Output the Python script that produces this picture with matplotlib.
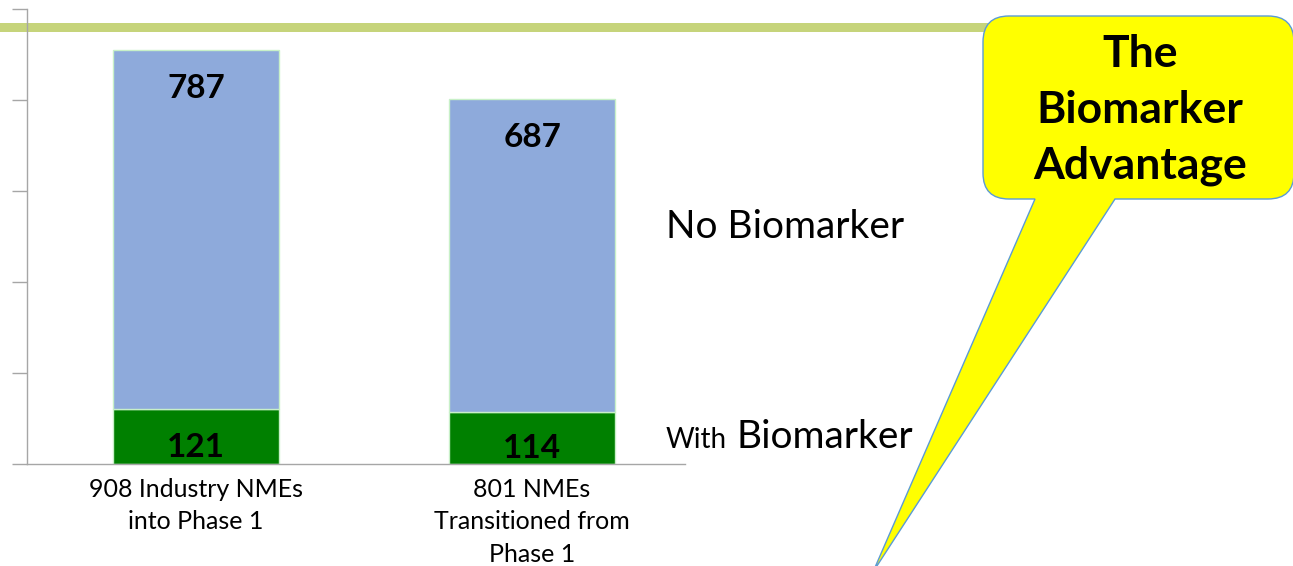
import matplotlib
matplotlib.use("Agg")
import matplotlib.pyplot as plt
from matplotlib.path import Path
from matplotlib.patches import PathPatch, Rectangle

plt.rcParams['font.family'] = ['Lato', 'DejaVu Sans']

categories = ["908 Industry NMEs\ninto Phase 1", "801 NMEs\nTransitioned from\nPhase 1"]
with_biomarker = [121, 114]
no_biomarker = [787, 687]

W, H = 1293, 566
fig = plt.figure(figsize=(W / 100, H / 100), dpi=100)

# Background layer in pixel coordinates for slide decorations
bg = fig.add_axes([0, 0, 1, 1], zorder=0)
bg.set_xlim(0, W)
bg.set_ylim(H, 0)
bg.axis('off')

# Olive header rule
bg.add_patch(Rectangle((0, 23), 990, 9, facecolor='#c6d47b', edgecolor='none'))

# Main chart
ax = fig.add_axes([27 / W, (H - 464) / H, (685 - 27) / W, (464 - 8.5) / H], zorder=1)
ax.set_facecolor('none')
x = list(range(len(categories)))
width = 0.494
ax.bar(x, with_biomarker, width, color='#008000', edgecolor='#c8f0c8', linewidth=1)
ax.bar(x, no_biomarker, width, bottom=with_biomarker, color='#8eaadb', edgecolor='#c8f0c8', linewidth=1)

for i in x:
    total = with_biomarker[i] + no_biomarker[i]
    ax.text(i, total - 84, str(no_biomarker[i]), ha='center', va='center',
            fontsize=24, fontweight='bold', color='black')
    ax.text(i, with_biomarker[i] * 0.30, str(with_biomarker[i]), ha='center', va='center',
            fontsize=24, fontweight='bold', color='black')

ax.set_xlim(-0.503, 1.455)
ax.set_ylim(0, 1000)
ax.set_yticks([0, 200, 400, 600, 800, 1000])
ax.set_yticklabels([])
ax.set_xticks(x)
ax.set_xticklabels(categories, fontsize=18, linespacing=1.5)
ax.tick_params(axis='x', length=0, pad=10)
ax.tick_params(axis='y', length=11, width=1, color='#a6a6a6', direction='out')
for s in ('top', 'right'):
    ax.spines[s].set_visible(False)
for s in ('left', 'bottom'):
    ax.spines[s].set_color('#a6a6a6')
    ax.spines[s].set_linewidth(1)

# Series labels beside the bars
bg.text(666, 227, "No Biomarker", fontsize=28, ha='left', va='center')
bg.text(666, 448, "With", fontsize=20, ha='left', va='baseline')
bg.text(737, 448, "Biomarker", fontsize=28, ha='left', va='baseline')

# Speech-bubble callout
left, right, top, bottom, r = 983, 1294, 16, 199, 26
tail_l, tail_r, tip = 1035, 1115, (873, 572)
verts = [
    (left + r, top), (right - r, top), (right, top), (right, top + r),
    (right, bottom - r), (right, bottom), (right - r, bottom),
    (tail_r, bottom), tip, (tail_l, bottom),
    (left + r, bottom), (left, bottom), (left, bottom - r),
    (left, top + r), (left, top), (left + r, top), (left + r, top),
]
codes = [
    Path.MOVETO, Path.LINETO, Path.CURVE3, Path.CURVE3,
    Path.LINETO, Path.CURVE3, Path.CURVE3,
    Path.LINETO, Path.LINETO, Path.LINETO,
    Path.LINETO, Path.CURVE3, Path.CURVE3,
    Path.LINETO, Path.CURVE3, Path.CURVE3, Path.CLOSEPOLY,
]
bubble = PathPatch(Path(verts, codes), facecolor='#ffff00', edgecolor='#5b9bd5',
                   linewidth=1.0, clip_on=False, zorder=3)
bg.add_patch(bubble)
bg.text(1140, 110, "The\nBiomarker\nAdvantage", fontsize=32, fontweight='bold',
        ha='center', va='center', linespacing=1.47, zorder=4)

fig.savefig("out.png", dpi=100)
